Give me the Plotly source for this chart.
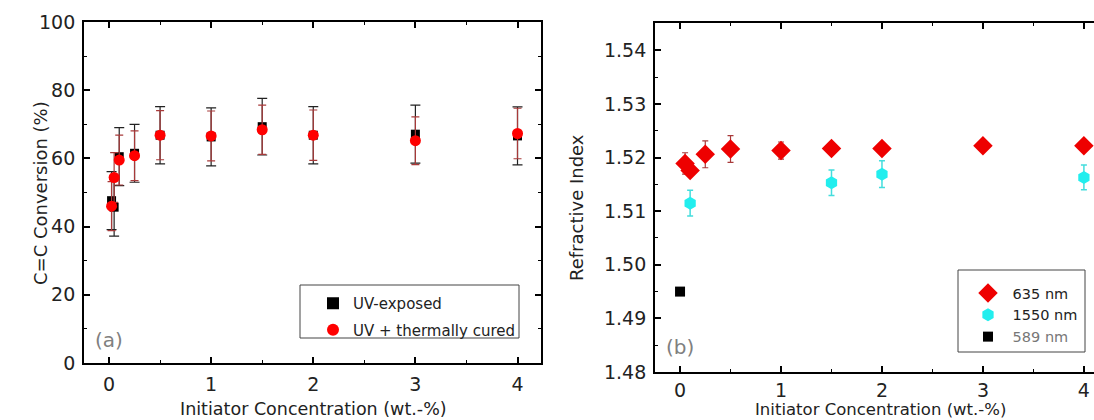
import plotly.graph_objects as go

# ---- Panel (a): C=C conversion ----
conc_a = [0.025, 0.05, 0.1, 0.25, 0.5, 1, 1.5, 2, 3, 4]
uv_exposed = [47.6, 45.7, 60.5, 61.5, 66.8, 66.3, 69.3, 66.8, 67.1, 66.6]
uv_exposed_err = [8.5, 8.5, 8.5, 8.5, 8.4, 8.5, 8.3, 8.4, 8.5, 8.5]
uv_thermal_x = [0.025, 0.05, 0.1, 0.25, 0.5, 1, 1.5, 2, 3, 4]
uv_thermal = [46.0, 54.4, 59.5, 60.8, 66.8, 66.6, 68.4, 66.8, 65.2, 67.3]
uv_thermal_err = [7.2, 7.3, 7.3, 7.3, 7.2, 7.3, 7.2, 7.4, 7.0, 7.4]

# ---- Panel (b): refractive index ----
conc_635 = [0.05, 0.1, 0.25, 0.5, 1, 1.5, 2, 3, 4]
n_635 = [1.5189, 1.5176, 1.5206, 1.5216, 1.5213, 1.5217, 1.5217, 1.5222, 1.5222]
n_635_err = [0.0020, 0.0008, 0.0025, 0.0025, 0.0016, 0.0005, 0.0005, 0.0005, 0.0005]
conc_1550 = [0.1, 1.5, 2, 4]
n_1550 = [1.5115, 1.5153, 1.5169, 1.5163]
n_1550_err = [0.0024, 0.0024, 0.0025, 0.0023]
conc_589 = [0]
n_589 = [1.4950]

FONT = "DejaVu Sans"
W, H = 1094, 420
NB = "\u00a0"


def px_x(p):
    return p / W


def px_y(p):
    return (H - p) / H


fig = go.Figure()

fig.add_trace(go.Scatter(
    x=conc_a, y=uv_exposed, mode="markers", name="UV-exposed", legendgroup="a1",
    marker=dict(symbol="square", size=9, color="black"),
    error_y=dict(type="data", array=uv_exposed_err, color="#222222", thickness=1.2, width=5),
    xaxis="x", yaxis="y", legend="legend"))
fig.add_trace(go.Scatter(
    x=uv_thermal_x, y=uv_thermal, mode="markers", name="UV + thermally cured", legendgroup="a2",
    marker=dict(symbol="circle", size=11, color="#ff0000"),
    error_y=dict(type="data", array=uv_thermal_err, color="#a83a3a", thickness=1.2, width=4),
    xaxis="x", yaxis="y", legend="legend"))

fig.add_trace(go.Scatter(
    x=conc_635, y=n_635, mode="markers", name=NB + "635 nm", legendgroup="b1",
    marker=dict(symbol="diamond", size=15, color="#ee0000"),
    error_y=dict(type="data", array=n_635_err, color="#a83a3a", thickness=1.2, width=3),
    xaxis="x2", yaxis="y2", legend="legend2"))
fig.add_trace(go.Scatter(
    x=conc_1550, y=n_1550, mode="markers", name=NB + "1550 nm", legendgroup="b2",
    marker=dict(symbol="hexagon", size=13, color="#22eeee"),
    error_y=dict(type="data", array=n_1550_err, color="#44dddd", thickness=1.5, width=3),
    xaxis="x2", yaxis="y2", legend="legend2"))
fig.add_trace(go.Scatter(
    x=conc_589, y=n_589, mode="markers", legendgroup="b3",
    name=NB + "<span style='color:#777777'>589 nm</span>",
    marker=dict(symbol="square", size=10, color="black"),
    xaxis="x2", yaxis="y2", legend="legend2"))

tickfont = dict(family=FONT, size=19, color="#222222")
minor_x = dict(ticks="inside", ticklen=3, tickwidth=1.2, tickcolor="black", dtick=0.5, showgrid=False)
axis_common = dict(showline=True, linecolor="black", linewidth=1.8,
                   ticks="inside", ticklen=6, tickwidth=1.5, tickcolor="black",
                   showgrid=False, zeroline=False, tickfont=tickfont,
                   automargin=False, ticklabelstandoff=3)

fig.update_layout(
    width=W, height=H, margin=dict(l=0, r=0, t=0, b=0, autoexpand=False),
    template="none",
    paper_bgcolor="white", plot_bgcolor="white",
    font=dict(family=FONT, color="#222222"),
    xaxis=dict(axis_common, domain=[px_x(84), px_x(541)], range=[-0.245, 4.23],
               mirror="ticks", tickvals=[0, 1, 2, 3, 4], minor=minor_x, anchor="y"),
    yaxis=dict(axis_common, domain=[px_y(363), px_y(22)], range=[0, 100], anchor="x",
               mirror="ticks", dtick=20,
               minor=dict(ticks="inside", ticklen=3, tickwidth=1.2, tickcolor="black", dtick=10, showgrid=False)),
    xaxis2=dict(axis_common, domain=[px_x(655), 1.0], range=[-0.248, 4.1],
                mirror="ticks", tickvals=[0, 1, 2, 3, 4], minor=minor_x, anchor="y2"),
    yaxis2=dict(axis_common, domain=[px_y(372), px_y(23)], range=[1.48, 1.5451], anchor="x2",
                mirror=False, dtick=0.01, tick0=1.48, tickformat=".2f",
                minor=dict(ticks="inside", ticklen=3, tickwidth=1.2, tickcolor="black", dtick=0.005, showgrid=False)),
    legend=dict(x=px_x(313), y=px_y(287), xanchor="left", yanchor="top",
                borderwidth=0, bgcolor="rgba(0,0,0,0)", tracegroupgap=4,
                font=dict(family=FONT, size=15, color="#222222"), itemsizing="constant"),
    legend2=dict(x=px_x(968), y=px_y(277), xanchor="left", yanchor="top",
                 borderwidth=0, bgcolor="rgba(0,0,0,0)", tracegroupgap=0,
                 font=dict(family=FONT, size=14.5, color="#222222"), itemsizing="trace"),
    shapes=[
        dict(type="rect", xref="paper", yref="paper", x0=px_x(300), x1=px_x(519),
             y0=px_y(338), y1=px_y(285), line=dict(color="#444444", width=1)),
        dict(type="rect", xref="paper", yref="paper", x0=px_x(958), x1=px_x(1085),
             y0=px_y(352), y1=px_y(270), line=dict(color="#444444", width=1)),
    ],
    annotations=[
        dict(text="(a)", x=0.0, y=6.7, xref="x", yref="y", showarrow=False,
             font=dict(family=FONT, size=20, color="#808080")),
        dict(text="(b)", x=0.0, y=1.4847, xref="x2", yref="y2", showarrow=False,
             font=dict(family=FONT, size=20, color="#808080")),
        dict(text="Initiator Concentration (wt.-%)", x=px_x(313), y=px_y(409),
             xref="paper", yref="paper", showarrow=False, xanchor="center", yanchor="middle",
             font=dict(family=FONT, size=17.5, color="#222222")),
        dict(text="Initiator Concentration (wt.-%)", x=px_x(880), y=px_y(409),
             xref="paper", yref="paper", showarrow=False, xanchor="center", yanchor="middle",
             font=dict(family=FONT, size=16.5, color="#222222")),
        dict(text="C=C Conversion (%)", x=px_x(40), y=px_y(193), textangle=-90,
             xref="paper", yref="paper", showarrow=False, xanchor="center", yanchor="middle",
             font=dict(family=FONT, size=18, color="#222222")),
        dict(text="Refractive Index", x=px_x(576), y=px_y(208), textangle=-90,
             xref="paper", yref="paper", showarrow=False, xanchor="center", yanchor="middle",
             font=dict(family=FONT, size=18, color="#222222")),
    ],
)
fig.update_layout(xaxis2_ticklabelstandoff=0)

fig.write_html("out.html", config={"displayModeBar": False},
               post_script="document.body.style.margin='0';")
